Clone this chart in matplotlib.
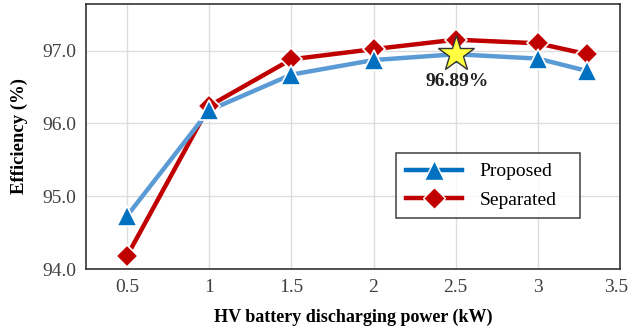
import matplotlib
matplotlib.use("Agg")
import matplotlib.pyplot as plt
import matplotlib.transforms as mtransforms
from matplotlib.lines import Line2D

power_kw = [0.5, 1.0, 1.5, 2.0, 2.5, 3.0, 3.3]
proposed = [94.73, 96.18, 96.67, 96.87, 96.95, 96.89, 96.72]
separated = [94.18, 96.24, 96.88, 97.02, 97.15, 97.10, 96.95]
peak_x = 2.5
peak_y = 96.95
peak_label = "96.89%"
x_ticks = [0.5, 1, 1.5, 2, 2.5, 3, 3.5]
x_tick_labels = ["0.5", "1", "1.5", "2", "2.5", "3", "3.5"]
y_ticks = [94.0, 95.0, 96.0, 97.0]

plt.rcParams["font.family"] = ["Liberation Serif", "DejaVu Serif"]

fig = plt.figure(figsize=(6.3, 3.33), dpi=100)
ax = fig.add_axes([86 / 630, 1 - 269 / 333, 534 / 630, 265 / 333])

ax.plot(power_kw, proposed, color="#5B9BD5", linewidth=3.2, zorder=3)
ax.plot(power_kw, proposed, linestyle="none", marker="^", markersize=15,
        markerfacecolor="#0070C0", markeredgecolor="white", markeredgewidth=1.2, zorder=4)
ax.plot(power_kw, separated, color="#C00000", linewidth=3.2, zorder=2)
ax.plot(power_kw, separated, linestyle="none", marker="D", markersize=11.5,
        markerfacecolor="#C00000", markeredgecolor="white", markeredgewidth=1.2, zorder=3)

ax.plot([peak_x], [peak_y], linestyle="none", marker="*", markersize=27,
        markerfacecolor="#FFFF40", markeredgecolor="#333333", markeredgewidth=1.0, zorder=6)
ax.text(peak_x + 0.01, peak_y - 0.38, peak_label, ha="center", va="center",
        fontsize=14, fontweight="bold", color="#222222", zorder=6)

ax.set_xlim(0.25, 3.5)
ax.set_ylim(94.0, 97.64)
ax.set_xticks(x_ticks)
ax.set_xticklabels(x_tick_labels)
ax.set_yticks(y_ticks)
ax.set_yticklabels([f"{v:.1f}" for v in y_ticks])
ax.tick_params(length=0, labelsize=14, colors="#404040", pad=7)
# last tick label sits at the figure edge, nudge it left a little
last = ax.get_xticklabels()[-1]
last.set_transform(last.get_transform() + mtransforms.ScaledTranslation(-4 / 100, 0, fig.dpi_scale_trans))
ax.grid(True, color="#DDDDDD", linewidth=1)
ax.set_axisbelow(True)
for side in ["left", "bottom", "top", "right"]:
    ax.spines[side].set_color("#333333")
    ax.spines[side].set_linewidth(1.2)

ax.set_xlabel("HV battery discharging power (kW)", fontsize=13, fontweight="bold", labelpad=9)
ax.set_ylabel("Efficiency (%)", fontsize=13.5, fontweight="bold", labelpad=10)

handles = [
    Line2D([], [], color="#0070C0", linewidth=3.2, marker="^", markersize=15,
           markerfacecolor="#0070C0", markeredgecolor="white"),
    Line2D([], [], color="#C00000", linewidth=3.2, marker="D", markersize=11.5,
           markerfacecolor="#C00000", markeredgecolor="white"),
]
leg_x0 = (396 - 86) / 534
leg_y1 = (269 - 153) / 265
leg_w = 184 / 534
leg_h = 66 / 265
leg = ax.legend(handles, ["Proposed", "Separated"], loc="upper left",
                bbox_to_anchor=(leg_x0, leg_y1 - leg_h, leg_w, leg_h), mode="expand",
                fontsize=14, frameon=True, fancybox=False, handlelength=2.9,
                handletextpad=0.9, borderpad=0.5, labelspacing=0.55, borderaxespad=0)
leg.get_frame().set_edgecolor("#222222")
leg.get_frame().set_linewidth(1.2)

plt.savefig("out.png", dpi=100)
